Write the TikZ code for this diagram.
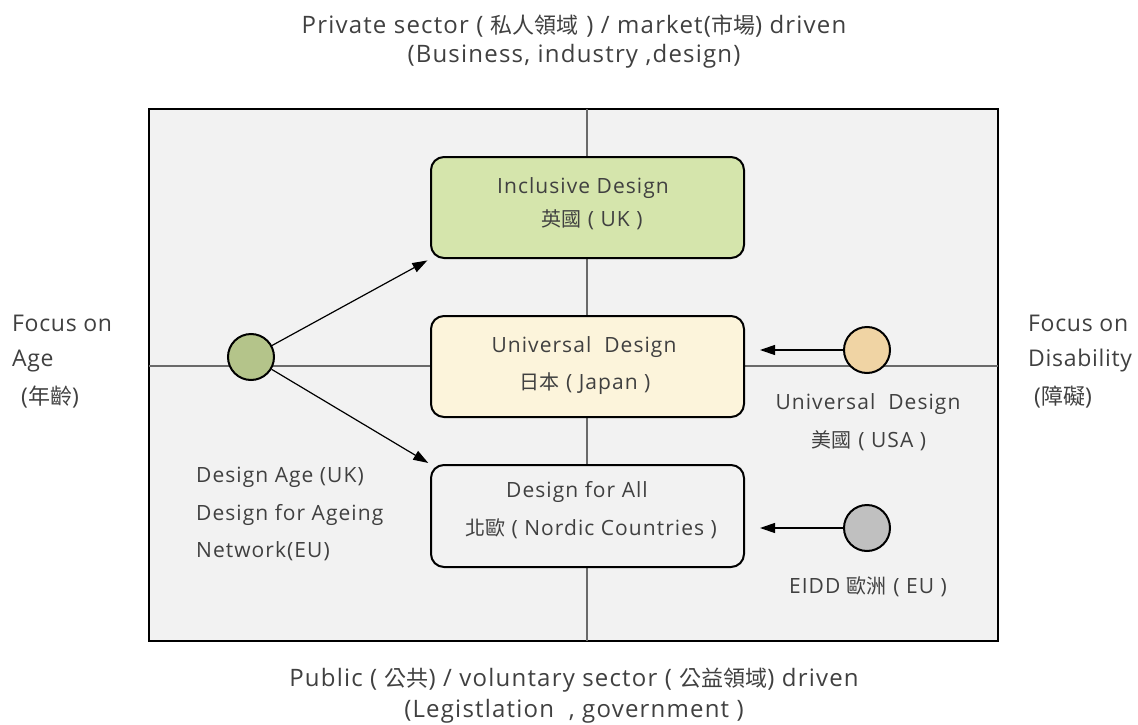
\documentclass[tikz,border=0pt]{standalone}
\usepackage{fontspec}
\setmainfont{Open Sans}[LetterSpace=5]
\newfontfamily\cjfont{Noto Sans CJK TC}
\newcommand{\cj}[1]{{\cjfont\fontsize{20}{24}\selectfont #1}}
\newcommand{\cjb}[1]{{\cjfont\fontsize{22}{26}\selectfont #1}}
\usetikzlibrary{arrows.meta}
\definecolor{txt}{HTML}{404040}
\definecolor{bgfill}{HTML}{F2F2F2}
\definecolor{axis}{HTML}{6A6A6A}
\definecolor{greenbox}{HTML}{D5E5AC}
\definecolor{yellowbox}{HTML}{FCF4DB}
\definecolor{greendot}{HTML}{B4C48A}
\definecolor{orangedot}{HTML}{F0D4A4}
\definecolor{graydot}{HTML}{C0C0C0}
\tikzset{
  lbl/.style={text=txt, font=\fontsize{21}{26}\selectfont, inner sep=0pt},
  biglbl/.style={text=txt, font=\fontsize{24}{28}\selectfont, inner sep=0pt},
  sidelbl/.style={text=txt, font=\fontsize{23}{28}\selectfont\addfontfeature{LetterSpace=3}, inner sep=0pt, anchor=west},
  catbox/.style={draw=black, line width=2pt, rounded corners=13pt},
  dot/.style={circle, draw=black, line width=2pt, minimum size=46pt, inner sep=0pt},
  axisline/.style={draw=axis, line width=1.6pt},
  conn/.style={draw=black, line width=1.2pt, -{Triangle[length=15pt,width=10pt]}}
}
\begin{document}
\begin{tikzpicture}[x=1pt,y=-1pt]
\useasboundingbox (0,0) rectangle (1138,725);
% frame
\draw[fill=bgfill, draw=black, line width=2pt] (149,109) rectangle (998,641);
\coordinate (vt) at (587,109);
\coordinate (vb) at (587,641);
\coordinate (hl) at (149,366);
\coordinate (hr) at (998,366);
\draw[axisline] (vt) -- (vb);
\draw[axisline] (hl) -- (hr);
% boxes
\node[catbox, fill=greenbox, minimum width=313pt, minimum height=101pt] (inc) at (587.5,207.5) {};
\node[catbox, fill=yellowbox, minimum width=313pt, minimum height=101pt] (uni) at (587.5,366.5) {};
\node[catbox, fill=bgfill, minimum width=313pt, minimum height=102pt] (dfa) at (587.5,516) {};
% box texts
\node[lbl] (incA) at (583,188) {Inclusive Design};
\node[lbl] (incB) at (592,220) {\cj{英國} ( UK )};
\node[lbl] (uniA) at (584,347) {Universal\ \ Design};
\node[lbl] (uniB) at (585,384) {\cj{日本} ( Japan )};
\node[lbl] (dfaA) at (577,492) {Design for All};
\node[lbl] (dfaB) at (591,529) {\cj{北歐} ( Nordic Countries )};
% dots
\node[dot, fill=greendot] (age) at (251,357) {};
\node[dot, fill=orangedot] (usa) at (867,350) {};
\node[dot, fill=graydot] (eu) at (867,528) {};
\coordinate (usaEnd) at (760,350);
\coordinate (euEnd) at (760,528);
\draw[conn, shorten >=3pt] (age) -- (inc.south west);
\draw[conn, shorten >=2pt] (age) -- (dfa.north west);
\draw[conn] (usa) -- (usaEnd);
\draw[conn] (eu) -- (euEnd);
% dot labels
\node[lbl] (usaA) at (868,404) {Universal\ \ Design};
\node[lbl] (usaB) at (869,441) {\cj{美國} ( USA )};
\node[lbl] (euA) at (868,587) {EIDD \cj{歐洲} ( EU )};
\node[lbl, anchor=west] (ageA) at (196,477) {Design Age (UK)};
\node[lbl, anchor=west] (ageB) at (196,515) {Design for Ageing};
\node[lbl, anchor=west] (ageC) at (196,551) {Network(EU)};
% side labels
\node[sidelbl] (lA) at (12,323) {Focus on};
\node[sidelbl] (lB) at (12,361) {Age};
\node[sidelbl] (lC) at (21,397) {(\cjb{年齡})};
\node[sidelbl] (rA) at (1028,323) {Focus on};
\node[sidelbl] (rB) at (1028,361) {Disability};
\node[sidelbl] (rC) at (1034,397) {(\cjb{障礙})};
% top / bottom
\node[biglbl] (tA) at (574,26) {Private sector ( \cjb{私人領域} ) / market(\cjb{市場}) driven};
\node[biglbl] (tB) at (574,56) {(Business, industry ,design)};
\node[biglbl] (bA) at (574,680) {Public ( \cjb{公共}) / voluntary sector ( \cjb{公益領域}) driven};
\node[biglbl] (bB) at (574,711) {(Legistlation\ \ , government )};
\end{tikzpicture}
\end{document}
